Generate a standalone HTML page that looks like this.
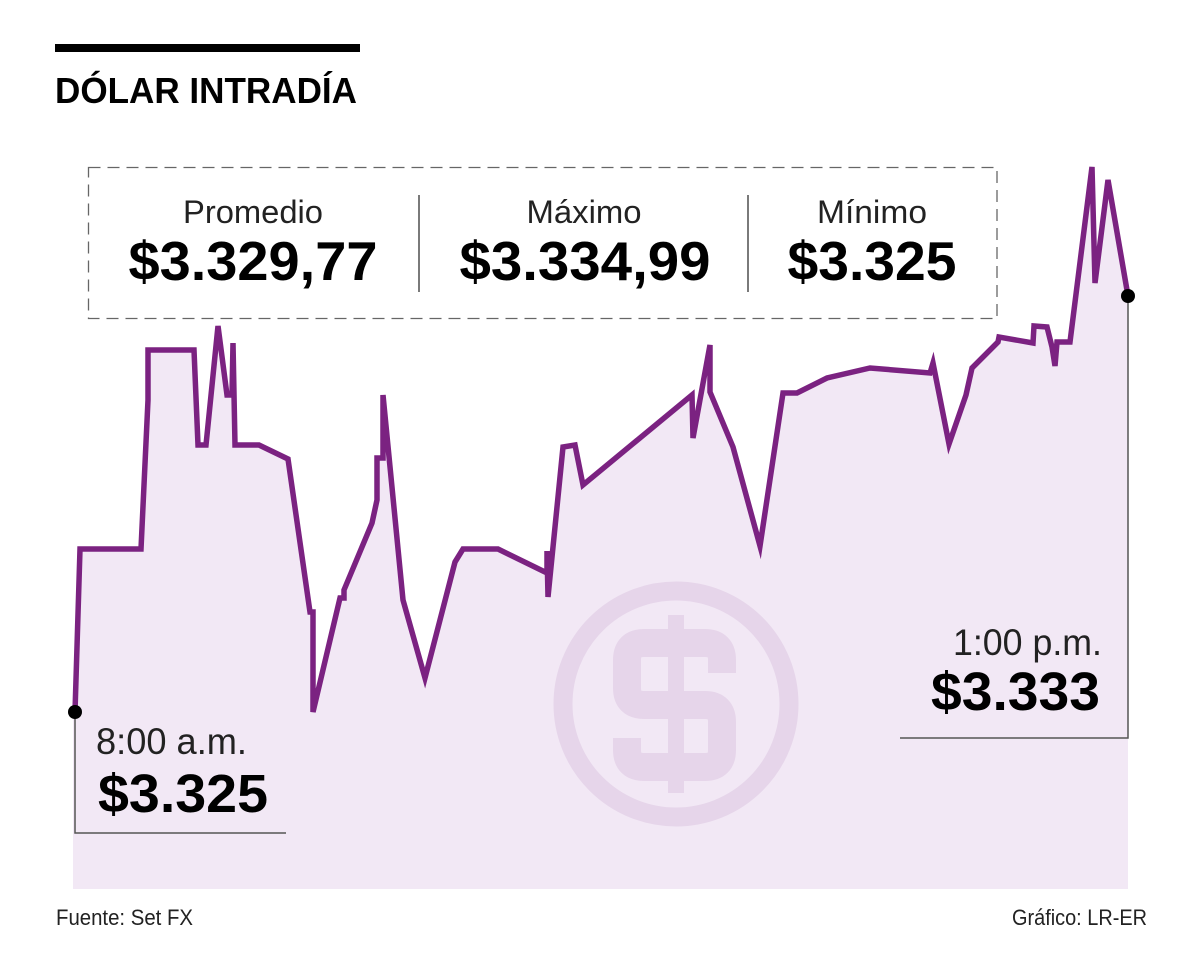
<!DOCTYPE html>
<html>
<head>
<meta charset="utf-8">
<style>
  html, body { margin: 0; padding: 0; background: #ffffff; }
  body { width: 1200px; height: 974px; overflow: hidden; }
  svg { display: block; }
  text { font-family: "Liberation Sans", "DejaVu Sans", sans-serif; }
</style>
</head>
<body>
<svg width="1200" height="974" viewBox="0 0 1200 974" xmlns="http://www.w3.org/2000/svg">
  <!-- Title -->
  <rect x="55" y="44" width="305" height="8" fill="#000"/>
  <text x="55" y="103" font-size="36" font-weight="bold" fill="#000" textLength="302" lengthAdjust="spacingAndGlyphs">DÓLAR INTRADÍA</text>

  <!-- Area fill -->
  <path fill="#f2e8f5" stroke="none" d="M73,889 L73,712 L75,712 L80,549 L141,549 L148,400 L148,350 L194,350 L198,445 L206,445 L218,326 L227,395 L232,395 L233,343 L235,445 L259,445 L288,459 L310,612 L313,612 L313,712 L340,598 L344,598 L344,590 L372,523 L377,500 L377,458 L383,458 L383,395 L403,600 L425,678 L455,562 L463,549 L498,549 L547,573 L547,551 L548,597 L563,447 L575,445 L583,485 L692,395 L693,438 L710,345 L710,392 L733,447 L760,546 L783,393 L797,393 L827,378 L870,368 L930,373 L933,363 L949,444 L966,395 L972,368 L998,342 L999,337 L1033,343 L1034,326 L1047,327 L1052,347 L1055,366 L1057,342 L1070,342 L1092,167 L1095,283 L1108,180 L1128,296 L1128,889 Z"/>

  <!-- Dollar watermark -->
  <g fill="none" stroke="#e6d5ea">
    <circle cx="676" cy="704" r="113" stroke-width="19"/>
    <rect x="668" y="615" width="16" height="178" fill="#e6d5ea" stroke="none"/>
    <path stroke-width="28" stroke-linejoin="round" d="M722,673 L722,660 Q722,643 705,643 L644,643 Q627,643 627,660 L627,688 Q627,705 644,705 L705,705 Q722,705 722,722 L722,750 Q722,767 705,767 L644,767 Q627,767 627,750 L627,738"/>
  </g>

  <!-- Line -->
  <path fill="none" stroke="#7b2281" stroke-width="5.5" stroke-linejoin="miter" stroke-miterlimit="5" d="M75,712 L80,549 L141,549 L148,400 L148,350 L194,350 L198,445 L206,445 L218,326 L227,395 L232,395 L233,343 L235,445 L259,445 L288,459 L310,612 L313,612 L313,712 L340,598 L344,598 L344,590 L372,523 L377,500 L377,458 L383,458 L383,395 L403,600 L425,678 L455,562 L463,549 L498,549 L547,573 L547,551 L548,597 L563,447 L575,445 L583,485 L692,395 L693,438 L710,345 L710,392 L733,447 L760,546 L783,393 L797,393 L827,378 L870,368 L930,373 L933,363 L949,444 L966,395 L972,368 L998,342 L999,337 L1033,343 L1034,326 L1047,327 L1052,347 L1055,366 L1057,342 L1070,342 L1092,167 L1095,283 L1108,180 L1128,296"/>

  <!-- Stats box -->
  <rect x="88.5" y="167.5" width="908.5" height="151" fill="none" stroke="#666" stroke-width="1.3" stroke-dasharray="12,7"/>
  <line x1="419" y1="195" x2="419" y2="292" stroke="#333" stroke-width="1.3"/>
  <line x1="748" y1="195" x2="748" y2="292" stroke="#333" stroke-width="1.3"/>

  <text x="253" y="223" font-size="32" fill="#222" text-anchor="middle" textLength="140" lengthAdjust="spacingAndGlyphs">Promedio</text>
  <text x="253" y="280" font-size="55" font-weight="bold" fill="#000" text-anchor="middle" textLength="249" lengthAdjust="spacingAndGlyphs">$3.329,77</text>

  <text x="584" y="223" font-size="32" fill="#222" text-anchor="middle" textLength="115" lengthAdjust="spacingAndGlyphs">Máximo</text>
  <text x="585" y="280" font-size="55" font-weight="bold" fill="#000" text-anchor="middle" textLength="251" lengthAdjust="spacingAndGlyphs">$3.334,99</text>

  <text x="872" y="223" font-size="32" fill="#222" text-anchor="middle" textLength="110" lengthAdjust="spacingAndGlyphs">Mínimo</text>
  <text x="872" y="280" font-size="55" font-weight="bold" fill="#000" text-anchor="middle" textLength="169" lengthAdjust="spacingAndGlyphs">$3.325</text>

  <!-- 8:00 a.m. annotation -->
  <polyline points="75,712 75,833 286,833" fill="none" stroke="#555" stroke-width="1.5"/>
  <circle cx="75" cy="712" r="7" fill="#000"/>
  <text x="96" y="754" font-size="37" fill="#222" textLength="151" lengthAdjust="spacingAndGlyphs">8:00 a.m.</text>
  <text x="98" y="812" font-size="54" font-weight="bold" fill="#000" textLength="170" lengthAdjust="spacingAndGlyphs">$3.325</text>

  <!-- 1:00 p.m. annotation -->
  <polyline points="1128,296 1128,738 900,738" fill="none" stroke="#555" stroke-width="1.5"/>
  <circle cx="1128" cy="296" r="7" fill="#000"/>
  <text x="953" y="655" font-size="37" fill="#222" textLength="149" lengthAdjust="spacingAndGlyphs">1:00 p.m.</text>
  <text x="931" y="710" font-size="54" font-weight="bold" fill="#000" textLength="169" lengthAdjust="spacingAndGlyphs">$3.333</text>

  <!-- Footer -->
  <text x="56" y="925" font-size="22" fill="#222" textLength="137" lengthAdjust="spacingAndGlyphs">Fuente: Set FX</text>
  <text x="1012" y="925" font-size="22" fill="#222" textLength="135" lengthAdjust="spacingAndGlyphs">Gráfico: LR-ER</text>
</svg>
</body>
</html>
